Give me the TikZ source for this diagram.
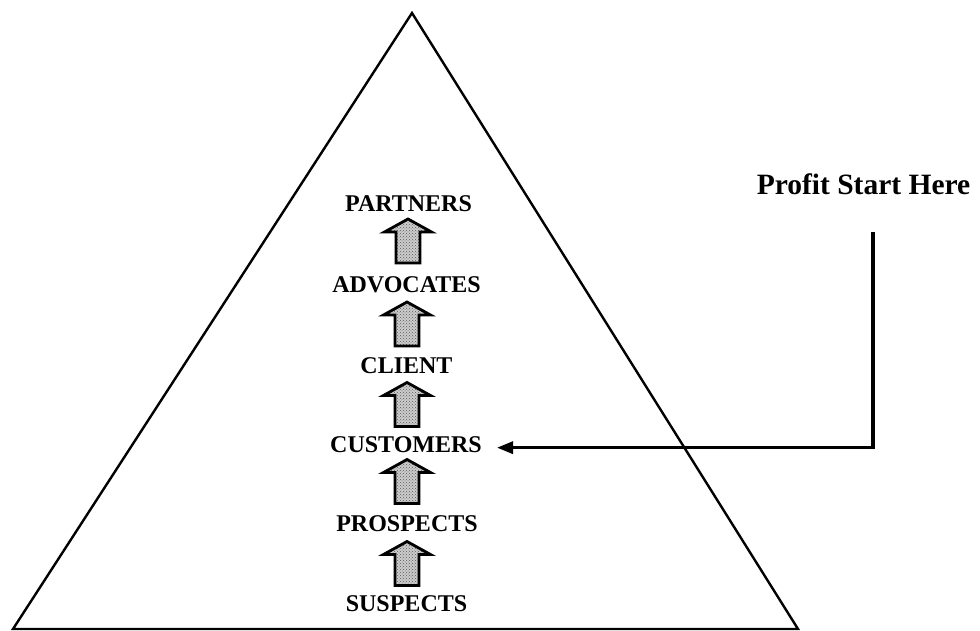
\documentclass[tikz,border=0pt]{standalone}
\usepackage{fontspec}
\setmainfont{Liberation Serif}
\usetikzlibrary{arrows.meta,patterns}
\tikzset{
  lbl/.style={inner sep=0pt, anchor=base, font=\fontsize{24}{28}\selectfont\bfseries},
  hdr/.style={inner sep=0pt, anchor=base, font=\fontsize{29.5}{34}\selectfont\bfseries},
  tri/.style={draw=black, line width=2.4pt, line join=miter},
  conn/.style={draw=black, line width=3.2pt, -{Triangle[length=16pt,width=12pt]}},
  blockup/.pic={
    \path[fill=gray!40] (-12,22) -- (-12,-9) -- (-23.5,-9) -- (0,-22) -- (23.5,-9) -- (12,-9) -- (12,22) -- cycle;
    \path[pattern=crosshatch dots, pattern color=gray!70!black] (-12,22) -- (-12,-9) -- (-23.5,-9) -- (0,-22) -- (23.5,-9) -- (12,-9) -- (12,22) -- cycle;
    \draw[line width=2.8pt, line join=miter] (-12,22) -- (-12,-9) -- (-23.5,-9) -- (0,-22) -- (23.5,-9) -- (12,-9) -- (12,22) -- cycle;
  }
}
\begin{document}
\begin{tikzpicture}[x=1pt,y=-1pt]
\useasboundingbox (0,0) rectangle (980,631);
\fill[white] (0,0) rectangle (980,631);
% pyramid
\draw[tri] (412,13) -- (798,629) -- (13,629) -- cycle;
% labels
\node[lbl] (partners) at (408.5,212) {PARTNERS};
\node[lbl] (advocates) at (406.5,292) {ADVOCATES};
\node[lbl] (client) at (406.5,373) {CLIENT};
\node[lbl] (cust) at (406,452) {CUSTOMERS};
\node[lbl] (prospects) at (407,531) {PROSPECTS};
\node[lbl] (suspects) at (406.5,611) {SUSPECTS};
% block arrows
\pic at (408,241) {blockup};
\pic at (407,324) {blockup};
\pic at (407,404.5) {blockup};
\pic at (407,481.5) {blockup};
\pic at (407,563.5) {blockup};
% profit
\node[hdr] (profit) at (863.5,195) {Profit Start Here};
\coordinate (pstart) at (873,232);
\draw[conn] (pstart) |- ([xshift=15pt,yshift=-3.5pt]cust.east);
\end{tikzpicture}
\end{document}
